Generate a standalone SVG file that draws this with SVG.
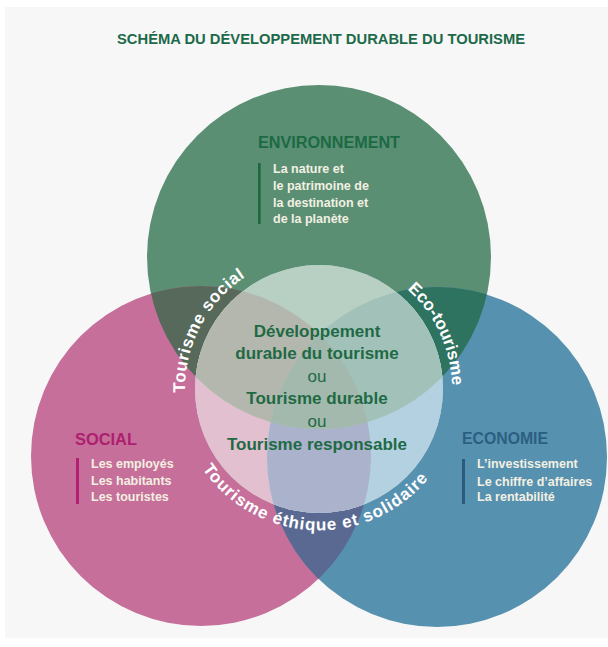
<svg xmlns="http://www.w3.org/2000/svg" width="608" height="647" viewBox="0 0 608 647">
  <style>
    .title { font-family: "Liberation Sans", Arial, sans-serif; font-weight: bold; font-size: 15px; fill: #1d6a4a; }
    .head { font-family: "Liberation Sans", Arial, sans-serif; font-weight: bold; font-size: 16px; }
    .body { font-family: "Liberation Sans", Arial, sans-serif; font-weight: bold; font-size: 12.5px; fill: #f3f0e2; }
    .center { font-family: "Liberation Sans", Arial, sans-serif; font-weight: bold; font-size: 17px; fill: #1f6a45; text-anchor: middle; }
    .ou { font-family: "Liberation Sans", Arial, sans-serif; font-weight: normal; font-size: 17px; fill: #1f6a45; text-anchor: middle; }
    .arc { font-family: "Liberation Sans", Arial, sans-serif; font-weight: bold; font-size: 17px; fill: #ffffff; text-anchor: middle; }
  </style>
  <defs>
    <clipPath id="cGreen"><circle cx="319" cy="257" r="172"/></clipPath>
    <clipPath id="cPink"><circle cx="201" cy="456" r="170"/></clipPath>
    <clipPath id="cCenter"><circle cx="319" cy="389" r="124"/></clipPath>
    <path id="arcSocial" d="M 203 456 A 134 134 0 0 1 307.3 255.5"/>
    <path id="arcEco" d="M 342.1 258 A 133 133 0 0 1 434.2 455.5"/>
    <path id="arcEthique" d="M 178.5 401.3 A 141 141 0 0 0 457.9 413.5"/>
  </defs>

  <rect x="0" y="0" width="608" height="647" fill="#ffffff"/>
  <rect x="5" y="7" width="603" height="631" fill="#f7f7f7"/>

  <text class="title" x="117" y="44" textLength="408" lengthAdjust="spacingAndGlyphs">SCHÉMA DU DÉVELOPPEMENT DURABLE DU TOURISME</text>

  <!-- base circles -->
  <g id="circle-environnement">
    <circle cx="319" cy="257" r="172" fill="#5b8f74"/>
  </g>
  <g id="circle-social">
    <circle cx="201" cy="456" r="170" fill="#c66f9a"/>
  </g>
  <g id="circle-economie">
    <circle cx="437" cy="457" r="170" fill="#5791b0"/>
  </g>
  <!-- intersections -->
  <g id="overlaps">
    <g clip-path="url(#cGreen)"><circle cx="201" cy="456" r="170" fill="#57695a"/></g>
    <g clip-path="url(#cGreen)"><circle cx="437" cy="457" r="170" fill="#2e7260"/></g>
    <g clip-path="url(#cPink)"><circle cx="437" cy="457" r="170" fill="#5a6991"/></g>
  </g>
  <!-- central light circle -->
  <g id="circle-centre" clip-path="url(#cCenter)">
    <rect x="190" y="260" width="260" height="260" fill="#b7d0c3"/>
    <circle cx="201" cy="456" r="170" fill="#e2c0d0"/>
    <circle cx="437" cy="457" r="170" fill="#b4d1e1"/>
    <g clip-path="url(#cPink)"><circle cx="437" cy="457" r="170" fill="#aab2cc"/></g>
    <g clip-path="url(#cGreen)">
      <rect x="190" y="260" width="260" height="260" fill="#b7d0c3"/>
      <circle cx="201" cy="456" r="170" fill="#b4b7ad"/>
      <circle cx="437" cy="457" r="170" fill="#a2c2b9"/>
      <g clip-path="url(#cPink)"><circle cx="437" cy="457" r="170" fill="#a4b9ad"/></g>
    </g>
  </g>

  <!-- labels -->
  <g id="label-environnement">
    <text class="head" x="258" y="148" fill="#1c6a44" textLength="142" lengthAdjust="spacingAndGlyphs">ENVIRONNEMENT</text>
    <rect x="258" y="163" width="2.6" height="61" fill="#1a6a40"/>
    <text class="body" x="273" y="173">La nature et</text>
    <text class="body" x="273" y="190">le patrimoine de</text>
    <text class="body" x="273" y="207">la destination et</text>
    <text class="body" x="273" y="223">de la planète</text>
  </g>
  <g id="label-social">
    <text class="head" x="75" y="445" fill="#ad2070" textLength="62" lengthAdjust="spacingAndGlyphs">SOCIAL</text>
    <rect x="76" y="458" width="3" height="46" fill="#b21f73"/>
    <text class="body" x="91" y="468">Les employés</text>
    <text class="body" x="91" y="485">Les habitants</text>
    <text class="body" x="91" y="501">Les touristes</text>
  </g>
  <g id="label-economie">
    <text class="head" x="462" y="444" fill="#2b5f82" textLength="86" lengthAdjust="spacingAndGlyphs">ECONOMIE</text>
    <rect x="462" y="459" width="3" height="45" fill="#2b5b7d"/>
    <text class="body" x="477" y="468">L’investissement</text>
    <text class="body" x="477" y="486">Le chiffre d’affaires</text>
    <text class="body" x="477" y="501">La rentabilité</text>
  </g>
  <g id="label-centre">
    <text class="center" x="317" y="337">Développement</text>
    <text class="center" x="317" y="359">durable du tourisme</text>
    <text class="ou" x="317" y="382">ou</text>
    <text class="center" x="317" y="404">Tourisme durable</text>
    <text class="ou" x="317" y="427">ou</text>
    <text class="center" x="317" y="450">Tourisme responsable</text>
  </g>
  <g id="arc-labels">
    <text class="arc"><textPath href="#arcSocial" startOffset="50%" textLength="136" lengthAdjust="spacing">Tourisme social</textPath></text>
    <text class="arc"><textPath href="#arcEco" startOffset="50%">Eco-tourisme</textPath></text>
    <text class="arc"><textPath href="#arcEthique" startOffset="50%" textLength="262" lengthAdjust="spacing">Tourisme éthique et solidaire</textPath></text>
  </g>
</svg>
